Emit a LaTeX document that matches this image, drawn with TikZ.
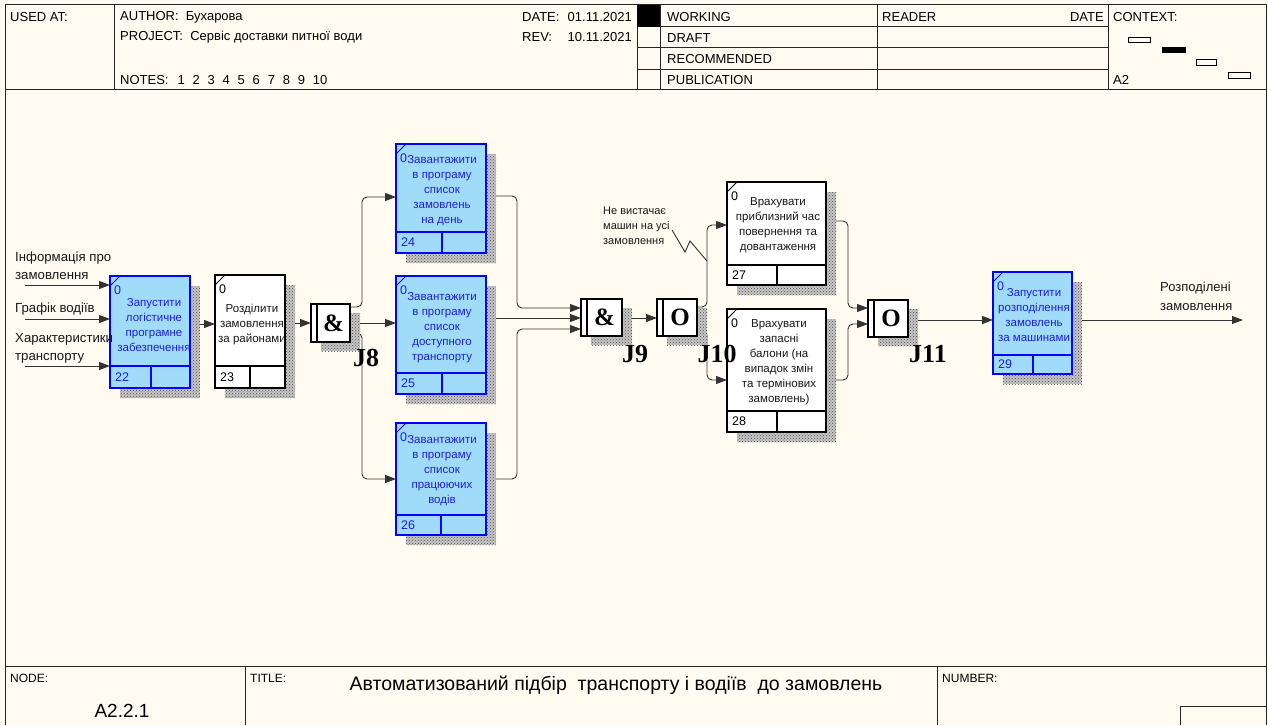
\documentclass[tikz,border=0pt]{standalone}
\usepackage{fontspec}
\setmainfont{Liberation Sans}
\newfontfamily\jfont{Liberation Serif}
\usetikzlibrary{arrows.meta,patterns}
\definecolor{cream}{RGB}{255,251,240}
\definecolor{boxblue}{RGB}{160,220,250}
\definecolor{edgeblue}{RGB}{0,0,255}
\definecolor{textblue}{RGB}{30,30,220}
\pgfdeclarelayer{bg}\pgfdeclarelayer{conn}\pgfdeclarelayer{shad}
\pgfsetlayers{bg,conn,shad,main}
\tikzset{
 conn/.style={draw=black!80, line width=0.9pt},
 arr/.style={-{Triangle[length=11pt,width=8pt]}},
 rc/.style={rounded corners=5pt},
 frame/.style={draw=black!85, line width=1pt},
 shadowbase/.style={fill=gray!45},
 shadowfill/.style={pattern=crosshatch dots, pattern color=black!70},
 bbox/.style={draw=edgeblue, fill=boxblue, line width=1.8pt, inner sep=0pt, outer sep=0pt},
 wbox/.style={draw=black, fill=white, line width=1.8pt, inner sep=0pt, outer sep=0pt},
 bboxedge/.style={draw=edgeblue, line width=1.8pt},
 wboxedge/.style={draw=black, line width=1.8pt},
 bboxnum/.style={text=textblue, font=\fontsize{12.5}{14}\selectfont, inner sep=0pt},
 wboxnum/.style={text=black, font=\fontsize{12.5}{14}\selectfont, inner sep=0pt},
 btxt/.style={text=textblue, font=\fontsize{11.5}{15}\selectfont, align=center, inner sep=0pt},
 wtxt/.style={text=black!90, font=\fontsize{11.5}{15}\selectfont, align=center, inner sep=0pt},
 jbox/.style={draw=black, fill=white, line width=1.8pt, inner sep=0pt, outer sep=0pt},
 jedge/.style={draw=black, line width=1.8pt},
 jsym/.style={font=\jfont\bfseries\fontsize{25}{27}\selectfont, inner sep=0pt},
 jlab/.style={font=\jfont\bfseries\fontsize{26}{28}\selectfont, inner sep=0pt},
 hdr/.style={font=\fontsize{13}{15}\selectfont, anchor=west, inner sep=0pt, text=black},
 albl/.style={font=\fontsize{13.2}{18}\selectfont, anchor=west, align=left, inner sep=0pt, text=black!90},
}
\newcommand\ibox[9]{%
 \begin{pgfonlayer}{shad}\fill[shadowbase] ({#3+10},{#4+10}) rectangle ({#5+10},{#6+10});
 \fill[shadowfill] ({#3+10},{#4+10}) rectangle ({#5+10},{#6+10});\end{pgfonlayer}
 \node[#2, anchor=north west, minimum width={#5-#3}, minimum height={#6-#4}] (#1) at (#3,#4) {};
 \draw[#2edge] (#3,#7) -- (#5,#7) (#8,#7) -- (#8,#6);
 \draw[#2edge, line width=1pt] (#3,{#4+10}) -- ({#3+10},#4);
 \node[#2num, anchor=west] (#1n) at ({#3+5},{(#7+#6)/2}) {#9};
 \node[#2num, anchor=west] (#1z) at ({#3+4},{#4+14}) {0};
}
\newcommand\junc[6]{%
 \begin{pgfonlayer}{shad}\fill[shadowbase] ({#2+10},{#3+9}) rectangle ({#4+10},{#5+9});
 \fill[shadowfill] ({#2+10},{#3+9}) rectangle ({#4+10},{#5+9});\end{pgfonlayer}
 \node[jbox, anchor=north west, minimum width={#4-#2}, minimum height={#5-#3}] (#1) at (#2,#3) {};
 \draw[jedge] ({#2+6},#3) -- ({#2+6},#5);
 \node[jsym] (#1s) at ({(#2+6+#4)/2},{(#3+#5)/2}) {#6};
}
\begin{document}
\begin{tikzpicture}[x=1pt,y=-1pt]
\useasboundingbox (0,0) rectangle (1268,725);
\begin{pgfonlayer}{bg}
\fill[cream] (0,0) rectangle (1268,725);
\end{pgfonlayer}

% ---------- frame and header ----------
\draw[frame] (5,725) -- (5,5) -- (1266,5) -- (1266,725);
\draw[frame] (5,89) -- (1266,89);
\draw[frame] (5,666) -- (1266,666);
\draw[frame] (114,5) -- (114,89) (637,5) -- (637,89) (660,5) -- (660,89)
             (877,5) -- (877,89) (1108,5) -- (1108,89);
\draw[frame] (637,27) -- (1108,27) (637,48) -- (1108,48) (637,69) -- (1108,69);
\fill[black] (637,5) rectangle (660,27);
\node[hdr] (usedat) at (10,17) {USED AT:};
\node[hdr] (author) at (120,17) {AUTHOR:\ \ Бухарова};
\node[hdr] (project) at (120,37) {PROJECT:\ \ Сервіс доставки питної води};
\node[hdr] (notes) at (120,80) {NOTES:\hspace{9pt}1\hspace{7.8pt}2\hspace{7.8pt}3\hspace{7.8pt}4\hspace{7.8pt}5\hspace{7.8pt}6\hspace{7.8pt}7\hspace{7.8pt}8\hspace{7.8pt}9\hspace{7.8pt}10};
\node[hdr] (datel) at (522,17) {DATE:};
\node[hdr, anchor=east] (datev) at (632,17) {01.11.2021};
\node[hdr] (revl) at (522,37) {REV:};
\node[hdr, anchor=east] (revv) at (632,37) {10.11.2021};
\node[hdr] (working) at (667,17) {WORKING};
\node[hdr] (draft) at (667,38) {DRAFT};
\node[hdr] (recom) at (667,59) {RECOMMENDED};
\node[hdr] (public) at (667,80) {PUBLICATION};
\node[hdr] (reader) at (882,17) {READER};
\node[hdr, anchor=east] (rdate) at (1104,17) {DATE};
\node[hdr] (context) at (1113,17) {CONTEXT:};
\node[hdr] (ctxa) at (1113,80) {A2};
\draw[black, line width=0.9pt] (1128,37) rectangle (1150,42);
\fill[black] (1162,47) rectangle (1186,53);
\draw[black, line width=0.9pt] (1196,59) rectangle (1216,65);
\draw[black, line width=0.9pt] (1228,72) rectangle (1250,78);

% ---------- footer ----------
\draw[frame] (245,666) -- (245,725) (937,666) -- (937,725);
\draw[frame] (1180,725) -- (1180,706) -- (1266,706);
\node[hdr, font=\fontsize{12}{14}\selectfont] (nodel) at (10,678) {NODE:};
\node[hdr, font=\fontsize{12}{14}\selectfont] (titlel) at (250,678) {TITLE:};
\node[hdr, font=\fontsize{12}{14}\selectfont] (numberl) at (942,678) {NUMBER:};
\node[inner sep=0pt, font=\fontsize{19.5}{22}\selectfont] (title) at (616,685) {Автоматизований підбір\ \ транспорту і водіїв\ \ до замовлень};
\node[inner sep=0pt, font=\fontsize{19}{22}\selectfont] (nodeno) at (122,711) {A2.2.1};

% ---------- boxes ----------
\ibox{b22}{bbox}{110}{276}{190}{388}{366}{151}{22}
\ibox{b23}{wbox}{215}{275}{285}{388}{366}{250}{23}
\ibox{b24}{bbox}{396}{144}{486}{253}{232}{442}{24}
\ibox{b25}{bbox}{396}{276}{486}{394}{373}{442}{25}
\ibox{b26}{bbox}{396}{423}{486}{535}{515}{441}{26}
\ibox{b27}{wbox}{727}{182}{826}{285}{265}{777}{27}
\ibox{b28}{wbox}{727}{309}{826}{432}{411}{777}{28}
\ibox{b29}{bbox}{993}{272}{1072}{374}{355}{1033}{29}

\node[btxt] (t22) at (154,325) {Запустити\\логістичне\\програмне\\забезпечення};
\node[wtxt] (t23) at (252,325) {Розділити\\замовлення\\за районами};
\node[btxt] (t24) at (442,191) {Завантажити\\в програму\\список\\замовлень\\на день};
\node[btxt] (t25) at (442,327.5) {Завантажити\\в програму\\список\\доступного\\транспорту};
\node[btxt] (t26) at (442,471) {Завантажити\\в програму\\список\\працюючих\\водів};
\node[wtxt] (t27) at (778,225) {Врахувати\\приблизний час\\повернення та\\довантаження};
\node[wtxt] (t28) at (779,362.5) {Врахувати\\запасні\\балони (на\\випадок змін\\та термінових\\замовлень)};
\node[btxt] (t29) at (1034,315) {Запустити\\розподілення\\замовлень\\за машинами};

% ---------- junctions ----------
\junc{j8}{311}{304}{350}{342}{\&}
\junc{j9}{581}{299}{622}{336}{\&}
\junc{j10}{657}{299}{697}{336}{O}
\junc{j11}{868}{300}{908}{337}{O}
\node[jlab] (l8) at (366,358) {J8};
\node[jlab] (l9) at (635,354) {J9};
\node[jlab] (l10) at (717,354) {J10};
\node[jlab] (l11) at (928,354) {J11};

% ---------- labels ----------
\node[albl] (lin1) at (15,266) {Інформація про\\замовлення};
\node[albl] (lin2) at (15,309) {Графік водіїв};
\node[albl] (lin3) at (15,348) {Характеристики\\транспорту};
\node[albl, font=\fontsize{13}{19}\selectfont] (lout) at (1160,296.5) {Розподілені\\замовлення};
\node[albl, font=\fontsize{11}{15}\selectfont] (note) at (603,226) {Не вистачає\\машин на усі\\замовлення};

\coordinate (in1) at (25,285);
\coordinate (in2) at (25,319);
\coordinate (in3) at (25,366);
\coordinate (out1) at (1243,320);
\coordinate (sq) at (672,230);

% ---------- connectors ----------
\begin{pgfonlayer}{conn}
\draw[conn,arr] (in1) -- (b22.west |- in1);
\draw[conn,arr] (in2) -- (b22.west |- in2);
\draw[conn,arr] (in3) -- (b22.west |- in3);
\draw[conn,arr] (b22.east |- 0,324) -- (b23.west |- 0,324);
\draw[conn,arr] (b23.east |- 0,323) -- (j8.west |- 0,323);
\draw[conn,arr] (j8.east |- 0,323) -- (b25.west |- 0,323);
\draw[conn,arr,rc] (j8.east |- 0,307) -- (362,307) -- (362,197) -- (b24.west |- 0,197);
\draw[conn,arr,rc] (j8.east |- 0,333) -- (362,333) -- (362,479) -- (b26.west |- 0,479);
\draw[conn,arr,rc] (b24.east |- 0,196) -- (517,196) -- (517,308) -- (j9.west |- 0,308);
\draw[conn,arr] (b25.east |- 0,318) -- (j9.west |- 0,318);
\draw[conn,arr,rc] (b26.east |- 0,479) -- (517,479) -- (517,329) -- (j9.west |- 0,329);
\draw[conn,arr] (j9.east |- 0,318) -- (j10.west |- 0,318);
\draw[conn,arr,rc] (j10.east |- 0,307) -- (707,307) -- (707,225) -- (b27.west |- 0,225);
\draw[conn,arr,rc] (j10.east |- 0,330) -- (707,330) -- (707,380) -- (b28.west |- 0,380);
\draw[conn,arr,rc] (b27.east |- 0,221) -- (848,221) -- (848,308) -- (j11.west |- 0,308);
\draw[conn,arr,rc] (b28.east |- 0,380) -- (848,380) -- (848,324) -- (j11.west |- 0,324);
\draw[conn,arr] (j11.east |- 0,320) -- (b29.west |- 0,320);
\draw[conn,arr] (b29.east |- 0,320) -- (out1);
\draw[conn] (sq) -- (685,252) -- (690,241) -- (707,261);
\end{pgfonlayer}
\end{tikzpicture}
\end{document}
